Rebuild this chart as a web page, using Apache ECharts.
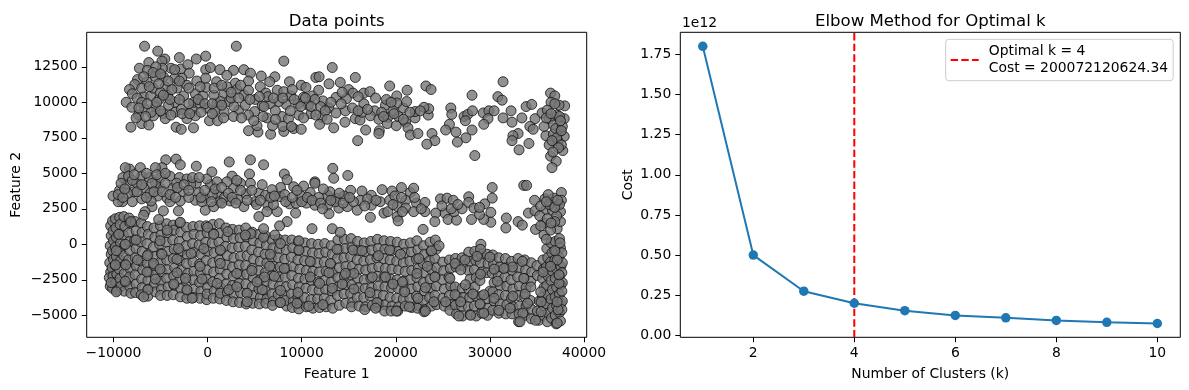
<!DOCTYPE html>
<html>
<head>
<meta charset="utf-8">
<title>Data points and elbow curve</title>
<script src="https://cdn.jsdelivr.net/npm/echarts@6/dist/echarts.min.js"></script>
<style>
  html, body { margin: 0; padding: 0; background: #fff; }
  #chart { width: 1189px; height: 390px; }
</style>
</head>
<body>
<div id="chart"></div>
<script>
// points, band by band
const upperBand = [
[-6700,13950],[-5300,13600],[3050,13950],[8100,12900],[13250,12450],[-3000,13150],[-1200,13050],[-200,13250],[-4550,13050],[-4850,12900],
[-6250,12800],[-7250,12400],[-6400,12250],[-3900,12400],[-2850,12350],[-2100,12650],[-200,12300],[300,12450],[1300,12300],[2750,12250],
[3850,12300],[4550,12050],[2050,11900],[5700,11850],[7150,11800],[4350,11500],[2950,11350],[8700,11450],[11500,11750],[11850,11800],
[12900,11300],[14100,11400],[9950,11200],[10450,11050],[6600,11450],[5600,11100],[950,11450],[-1150,11500],[-1950,12050],[-2750,11700],
[-4700,11800],[-5550,11800],[-6450,11450],[-7450,11600],[-7750,11250],[-8300,10900],[-8000,10600],[-8650,10000],[-8050,9650],[-7350,9100],
[-8150,8250],[-7000,8500],[-6250,8400],[-5750,9050],[-6700,9550],[-6800,10400],[-6050,10450],[-5150,10200],[-4250,10500],[-3250,11000],
[-2200,11200],[-4500,11100],[-2550,10450],[-1300,10600],[-500,10450],[-150,11050],[1750,10650],[3100,10900],[3850,10500],[5050,10200],
[6200,10650],[7400,10850],[8100,10750],[8850,10450],[10200,10350],[11150,10450],[11800,10850],[12250,10100],[13650,10350],[12900,9600],
[13650,9250],[11000,9200],[9700,9100],[9600,9900],[8350,9850],[7550,10050],[6650,9900],[5800,9750],[5000,9350],[3300,9450],
[2250,10050],[1000,9950],[-50,9600],[800,9400],[-1650,9500],[-3450,9300],[-3450,10000],[-4700,9200],[-4500,8850],[-2200,8850],
[-1300,9050],[200,8700],[1050,8700],[1750,9350],[2750,9000],[4350,9100],[6300,8900],[7900,9000],[8600,8850],[4350,8000],
[5350,7900],[5250,8350],[6700,7750],[6900,8350],[8100,7950],[8000,8300],[9150,8150],[9950,8100],[12150,8950],[11900,8450],
[13400,8200],[-3350,8250],[-2800,8100],[-1500,8200],[-4150,9800],[-5550,9700],[1350,10050],[3500,11200],[4350,10850],[2050,11100],
[650,10500],[-7000,11000],[-5800,11000],[-5000,10700],[-4000,10200],[-3500,11700],[-6000,9300],[-7500,10300],[-4800,12400],[-5500,12500],
[-1500,10000],[-800,9900],[-2800,9500],[2800,9700],[4000,9800],[7200,9400],[6400,10400],[8800,9400],[10700,9800],[12000,9700],
[11400,10200],[15700,11750],[15000,10900],[15450,10650],[14750,10250],[14650,9400],[14600,8600],[16600,10650],[17250,10750],[17850,10300],
[16600,9900],[17750,9400],[17300,9050],[15700,8850],[16200,8750],[16800,8050],[15950,7300],[18250,8000],[18200,7800],[18200,8800],
[19150,8950],[19100,8500],[20050,8350],[20300,9000],[21050,8600],[21300,8200],[21550,7700],[22350,7800],[23850,7800],[24150,7300],
[23300,7050],[22050,8900],[22050,9350],[23450,9100],[23500,9550],[23000,9650],[20800,9600],[21150,10050],[20100,10450],[20100,9950],
[18900,9800],[19000,10200],[19350,11150],[21200,10850],[23200,11150],[23750,10900],[25850,9600],[25950,9150],[25700,8450],[25300,8050],
[26400,7900],[27450,7500],[26550,7200],[28100,8050],[28400,6250],[28100,10500],[31400,11450],[30850,10400],[31300,10150],[27250,9000],
[27650,9150],[28150,9400],[27400,8700],[29300,9250],[29900,9400],[30450,9400],[29800,8850],[29350,8450],[31400,8900],[32250,9400],
[32350,8600],[33400,8900],[33850,9700],[34450,9850],[34800,8850],[35550,9250],[34250,8300],[34600,8100],[33000,7800],[32450,7650],
[32350,7300],[34150,7100],[33100,6650],[36450,10650],[36900,10450],[36500,10000],[37950,9750],[37150,9100],[37900,8850],[36300,8850],
[36750,8400],[35950,7650],[36750,7750],[37500,7950],[37900,7600],[36300,7000],[37250,7250],[37750,6600],[36450,6200],[37050,5850],
[36600,5400],[36100,9450],[37350,9800],[35750,8300],[37000,8150],[36900,9900],[37400,9000],[37700,8300],[37100,7500],[37600,7000],
[36600,7300],[36000,8900],[37500,8700],[37300,6800],[36700,6500],[37600,8000],[36500,9200],[15400,9600],[16000,10400],[14200,9900],
[19700,9400],[18500,9300],[16400,9300],[20800,8800],[19500,10000],
[-7000,10000],[-7300,9600],[-6400,9900],[-5400,10000],[-4700,10500],[-3800,10900],[-3000,10200],[-2000,9900],[-1000,10200],[-300,9900],
[500,9900],[1500,9800],[2500,10300],[3300,10300],[4500,10200],[5500,10400],[6000,9700],[7000,10300],[8000,10300],[9200,10200],
[9900,9700],[10400,10300],[11000,9700],[12500,9400],[13100,10000],[-6200,11100],[-5200,11300],[-4200,11500],[-3000,11500],[-2000,11000],
[-800,11100],[-200,11700],[700,11000],[1500,11200],[2500,10700],[-6800,11800],[-5800,12100],[-5000,12000],[-3500,12300],[-6600,9000],
[-7600,8900],[-5000,9400],[-3900,9100],[-2700,9200],[-1900,9200],[-700,9300],[500,9200],[1700,8900],[3600,8900],[4900,8700],
[5900,9000],[7200,8800],[8900,8300],[10200,8900],[11500,9100],[12700,8800],[9000,10900],[14300,10700],[16000,9400],[17000,9500],
[18700,9000],[19800,9200],[21500,9300],[22600,9400]
];
const middleBand = [
[-4450,5950],[-3350,6000],[-2900,5600],[-4850,5400],[-5550,5400],[-8300,5300],[-8750,5400],[-7150,5400],[-1200,5500],[2300,5800],
[4550,5950],[5950,5600],[13300,5350],[450,5100],[2600,4800],[4450,4950],[8150,4950],[13400,4650],[11400,4400],[14900,4850],
[-9350,3800],[-8600,4250],[-7850,3700],[-10050,3400],[-9050,3000],[-6800,4000],[-6100,3600],[-5300,3400],[-4300,3250],[-3700,3950],
[-2550,3700],[-950,3650],[-250,3250],[1050,3550],[2400,3050],[1300,3000],[-250,2400],[2750,3950],[4100,3550],[5450,3600],
[4550,4300],[7750,4000],[6150,3450],[6400,2750],[7750,3350],[8700,2850],[9850,3450],[10900,3650],[12750,3450],[13700,3250],
[12750,2750],[11400,2750],[9350,2200],[5450,1950],[6300,2300],[7400,2300],[3850,2650],[650,2650],[-1300,3100],[-2900,3050],
[-5050,3950],[10200,4100],[11400,4300],[8450,4550],[13950,2550],[12900,2150],[-5550,4300],[-7500,4300],[300,4200],[2050,4400],
[3500,4300],[6850,3850],[9150,4050],[-5900,2650],[-6650,2300],[-4700,2350],[-3100,2350],[-6800,2050],[-5200,1750],[5950,1100],
[8450,1600],[7650,1300],[7150,650],[11100,1100],[13250,1100],[13600,3000],[15200,3800],[16400,3750],[16250,3100],[17400,3450],
[17400,2750],[14850,2650],[15900,2400],[17300,1900],[18550,3850],[19600,3750],[18350,3000],[19350,3100],[20600,4000],[21550,3650],
[21900,3950],[21050,3100],[18750,2200],[19150,2300],[20150,2650],[20150,1950],[20250,1650],[21050,2550],[22200,2900],[23100,2950],
[23100,2300],[21900,2300],[22900,1050],[24750,3200],[25450,3250],[26100,3100],[25200,2200],[24250,2200],[24150,1600],[25550,1750],
[26450,1700],[26200,2300],[27050,2500],[27750,3350],[27750,2950],[28300,2550],[29450,2850],[30250,4000],[30250,3250],[30100,2250],
[30100,1550],[28050,1750],[29350,1750],[33600,4150],[33900,4150],[31750,1850],[31700,1150],[33000,1600],[33450,1350],[34100,2200],
[34750,3100],[34800,2350],[35850,3200],[36800,3250],[37600,3650],[37600,3100],[37500,2300],[35950,2450],[35750,1500],[37150,1100],
[34850,1050],[35750,650],[36000,350],[36450,1000],[14100,850],[36650,2400],[37500,1600],[-9000,4700],[-8400,4800],[-7000,4800],
[-6200,4700],[-5000,4700],[-4000,4800],[-3000,4700],[-2200,4600],[-1200,4300],[-100,4600],[1000,4400],[-8000,3000],[-7000,3200],
[-6000,3050],[-9500,3000],[-4000,3000],[-2000,3300],[-600,3000],[1800,3300],[3200,3150],[5000,3000],[7000,2800],[8200,3500],
[9400,2900],[10500,2900],[11800,3300],[13000,3700],[14500,3400],[15500,3000],[17000,3200],[19900,3400],[20700,2300],[22700,2500],
[25900,2500],[28900,2100],[35300,2000],[36300,2800],[37100,2000],[36900,1600],[36100,1800],[37400,2800],[36200,3500],[-8500,3600],
[-7500,3700],[-5900,4300],[-4500,4300],[-3300,4300],[-1800,4200],[500,3500],[3500,3800],[5800,4200],[-9200,4300],
[-9500,3500],[-9000,3300],[-8800,3900],[-8000,4500],[-7800,4900],[-7000,4200],[-6500,5000],[-6500,3300],[-5700,3700],[-5400,4900],
[-4800,3700],[-4500,5000],[-4000,3500],[-3400,3300],[-3200,4000],[-2500,4200],[-2000,3800],[-1600,4700],[-900,4700],[-700,3300],
[-300,3800],[400,3000],[800,3900],[1500,4000],[1500,2900],[2200,3600],[2600,3300],[3100,4500],[3000,2900],[4200,3100],
[4700,3800],[5200,2800],[5600,3100],[6700,3300],[7100,3400],[8300,3000],[9000,3300],[9500,3800],[10000,3000],[10600,3300],
[11100,3100],[12000,2900],[12300,3900],[12200,2500],[13100,3100],[14000,3600],[14400,2900],[15100,3300],[16700,2700],[17900,3100],
[19700,2800],[20600,3300],[22000,3300],[24900,2700],[26600,2800],[28900,2600],[35400,2700],[36000,3000],[36900,2600],[37200,3100],
[36500,1500],[35400,1300]
];
const lowerBand = [
[-10300,1300],[-10250,600],[-10350,-100],[-10250,-700],[-10400,-1300],[-10300,-1950],[-10450,-2350],[-10350,-2950],
[-10100,1650],[-10050,950],[-10000,250],[-10100,-450],[-10000,-1050],[-10150,-1650],[-10050,-2250],[-10100,-3100],
[-9800,1800],[-9750,1150],[-9700,500],[-9800,-200],[-9700,-850],[-9800,-1500],[-9650,-2100],[-9750,-2700],[-9600,-3250],
[-9350,1900],[-9300,1400],[-9400,700],[-9250,100],[-9350,-500],[-9250,-1150],[-9400,-1750],[-9300,-2400],[-9200,-2950],
[-8900,1950],[-8800,1250],[-8950,650],[-8800,-50],[-8900,-800],[-8750,-1400],[-8850,-2050],[-8700,-2700],[-8850,-3300],
[-8350,1850],[-8250,1500],[-8400,800],[-8300,200],[-8250,-450],[-8400,-1100],[-8200,-1750],[-8300,-2300],[-8250,-3000],[-8150,-3450],
[-7700,1600],[-7600,950],[-7750,300],[-7600,-300],[-7700,-950],[-7550,-1550],[-7700,-2150],[-7600,-2800],[-7650,-3400],
[-7050,1500],[-6950,850],[-7100,150],[-6950,-500],[-7050,-1200],[-6900,-1800],[-7000,-2450],[-6950,-3050],[-7050,-3550],
[-6400,1250],[-6300,700],[-6450,50],[-6300,-700],[-6400,-1350],[-6250,-1950],[-6350,-2550],[-6300,-3150],[-6350,-3650],
[-5700,1150],[-5600,500],[-5750,-200],[-5550,-850],[-5700,-1500],[-5600,-2150],[-5650,-2800],[-5550,-3350],
[-5000,1300],[-4950,650],[-5100,0],[-4900,-650],[-5000,-1250],[-4850,-1950],[-5000,-2600],[-4900,-3150],[-5000,-3600],
[-4350,1450],[-4250,800],[-4400,150],[-4200,-500],[-4350,-1100],[-4250,-1800],[-4350,-2400],[-4200,-3000],[-4300,-3600],
[-3650,1350],[-3550,1000],[-3700,300],[-3550,-350],[-3650,-1000],[-3500,-1650],[-3600,-2250],[-3550,-2900],[-3650,-3550],
[-2950,1500],[-2850,850],[-3000,200],[-2850,-500],[-2950,-1150],[-2800,-1800],[-2950,-2500],[-2850,-3100],[-2900,-3700],
[-2250,1200],[-2150,550],[-2300,-100],[-2150,-750],[-2250,-1350],[-2100,-2050],[-2250,-2650],[-2150,-3250],[-2200,-3800],
[-1550,1250],[-1450,700],[-1600,50],[-1400,-550],[-1550,-1250],[-1450,-1900],[-1500,-2500],[-1400,-3150],[-1500,-3750],
[-850,1300],[-750,600],[-900,-50],[-700,-700],[-850,-1400],[-750,-2000],[-850,-2700],[-700,-3300],[-800,-3800],
[-150,1300],[-50,800],[-200,150],[0,-500],[-150,-1150],[-50,-1800],[-150,-2450],[0,-3050],[-100,-3900],[-50,-3500],
[550,1400],[650,750],[500,100],[700,-600],[550,-1300],[650,-1950],[550,-2650],[700,-3300],[600,-3800],
[1250,1450],[1350,800],[1200,150],[1400,-450],[1250,-1100],[1350,-1800],[1250,-2400],[1400,-3050],[1300,-3850],[1350,-3450],
[1950,1150],[2050,500],[1900,-150],[2100,-800],[1950,-1450],[2050,-2100],[1950,-2800],[2100,-3400],[2000,-3950],
[2650,1050],[2750,400],[2600,-250],[2800,-950],[2650,-1600],[2750,-2250],[2650,-2900],[2800,-3500],[2700,-4050],
[3350,1000],[3450,450],[3300,-200],[3500,-850],[3350,-1450],[3450,-2150],[3350,-2750],[3500,-3400],[3400,-4100],
[4050,1150],[4150,500],[4000,-150],[4200,-800],[4050,-1500],[4150,-2100],[4050,-2800],[4200,-3450],[4100,-4200],
[4750,850],[4850,250],[4700,-400],[4900,-1050],[4750,-1700],[4850,-2350],[4750,-3000],[4900,-3600],[4800,-4150],
[5450,700],[5550,100],[5400,-550],[5600,-1200],[5450,-1850],[5550,-2500],[5450,-3150],[5600,-3750],[5500,-4200],
[6150,600],[6250,-50],[6100,-700],[6300,-1300],[6150,-2000],[6250,-2600],[6150,-3300],[6300,-3850],[6200,-4150],
[6850,300],[6950,-250],[6800,-900],[7000,-1550],[6850,-2200],[6950,-2800],[6850,-3500],[7000,-4000],[6900,-4300],
[7550,350],[7650,-300],[7500,-950],[7700,-1600],[7550,-2300],[7650,-2950],[7500,-3550],[7700,-4100],
[8250,300],[8350,-400],[8200,-1050],[8400,-1700],[8250,-2300],[8350,-3000],[8200,-3600],[8400,-4350],[8300,-3950],
[8950,300],[9050,-250],[8900,-900],[9100,-1600],[8950,-2200],[9050,-2850],[8900,-3500],[9100,-4050],[9000,-4450],
[9650,200],[9750,-450],[9600,-1100],[9800,-1750],[9650,-2400],[9750,-3000],[9600,-3700],[9800,-4200],[9700,-4550],
[10350,100],[10450,-500],[10300,-1150],[10500,-1850],[10350,-2450],[10450,-3100],[10300,-3750],[10500,-4400],
[11050,50],[11150,-600],[11000,-1250],[11200,-1900],[11050,-2550],[11150,-3200],[11000,-3900],[11200,-4500],
[11750,0],[11850,-650],[11700,-1300],[11900,-1950],[11750,-2650],[11850,-3250],[11700,-3850],[11900,-4450],
[12450,50],[12550,-550],[12400,-1250],[12600,-1900],[12450,-2550],[12550,-3200],[12400,-3800],[12600,-4400],
[13150,-100],[13250,-700],[13100,-1400],[13300,-2000],[13150,-2650],[13250,-3300],[13100,-3950],[13300,-4500],
[13850,300],[13950,-350],[13800,-1000],[14000,-1650],[13850,-2350],[13950,-2950],[13800,-3600],[14000,-4300],
[14550,350],[14650,-300],[14500,-950],[14700,-1550],[14550,-2250],[14650,-2850],[14500,-3500],[14700,-4150],
[15250,400],[15350,-200],[15200,-850],[15400,-1550],[15250,-2150],[15350,-2850],[15200,-3450],[15400,-4100],[15300,-4400],
[15950,200],[16050,-450],[15900,-1100],[16100,-1750],[15950,-2400],[16050,-3050],[15900,-3750],[16100,-4350],
[16650,100],[16750,-500],[16600,-1200],[16800,-1800],[16650,-2500],[16750,-3100],[16600,-3750],[16800,-4400],[16700,-4600],
[17350,200],[17450,-400],[17300,-1100],[17500,-1700],[17350,-2400],[17450,-3050],[17300,-3650],[17500,-4300],
[18050,350],[18150,-300],[18000,-950],[18200,-1600],[18050,-2250],[18150,-2950],[18000,-3550],[18200,-4150],[18100,-4400],
[18750,250],[18850,-350],[18700,-1000],[18900,-1700],[18750,-2300],[18850,-3000],[18700,-3600],[18900,-4250],[18800,-4700],
[19450,200],[19550,-450],[19400,-1100],[19600,-1750],[19450,-2450],[19550,-3050],[19400,-3750],[19600,-4350],[19500,-4700],
[20150,150],[20250,-500],[20100,-1200],[20300,-1800],[20150,-2500],[20250,-3100],[20100,-3800],[20300,-4400],[20200,-4700],
[20850,0],[20950,-600],[20800,-1300],[21000,-1900],[20850,-2600],[20950,-3200],[20800,-3850],[21000,-4350],
[21550,100],[21650,-550],[21500,-1200],[21700,-1850],[21550,-2500],[21650,-3150],[21500,-3800],[21700,-4450],
[22250,250],[22350,-400],[22200,-1050],[22400,-1700],[22250,-2350],[22350,-3000],[22200,-3650],[22400,-4300],[22300,-4500],
[22950,-100],[23050,-700],[22900,-1350],[23100,-2000],[22950,-2700],[23050,-3300],[22900,-3950],[23100,-4600],[23000,-4750],
[23650,150],[23750,-500],[23600,-1150],[23800,-1800],[23650,-2450],[23750,-3100],[23600,-3750],[23800,-4350],
[24200,300],[24300,-350],[24150,-1000],[24350,-1650],[24200,-2300],[24300,-2950],[24150,-3600],[24350,-4250],
[25000,-1250],[25100,-1850],[24950,-2500],[25150,-3150],[25000,-3800],[25150,-4350],
[25700,-1100],[25800,-1700],[25650,-2300],[25850,-2950],[25700,-3600],[25850,-4250],[25750,-4650],
[26350,-1000],[26400,-1600],[26300,-3000],[26500,-3650],[26350,-4300],[26450,-4900],
[27050,-950],[27100,-1500],[27050,-3100],[27150,-3750],[27000,-4350],[27100,-5050],
[27750,-550],[27850,-1200],[27700,-1850],[27900,-2450],[27750,-3150],[27850,-3750],[27700,-4400],[27900,-4950],
[28400,-500],[28500,-1150],[28350,-1800],[28550,-2350],[28400,-3000],[28500,-3650],[28350,-4350],[28550,-5050],
[29050,0],[29100,-700],[29000,-1300],[29150,-1950],[28950,-2550],[29100,-3650],[29000,-4250],[29150,-4850],
[29700,-700],[29800,-1350],[29650,-2000],[30000,-3300],[29700,-3850],[29800,-4500],[29750,-5000],
[30300,-750],[30400,-1400],[30250,-2050],[30450,-2700],[30300,-3350],[30450,-4000],[30300,-4650],
[30950,-950],[31050,-1600],[30900,-2250],[31100,-2900],[30950,-3550],[31100,-4200],[30950,-4850],
[31650,-1000],[31750,-1650],[31600,-2300],[31800,-2950],[31650,-3600],[31800,-4250],[31700,-4900],
[32300,-1200],[32400,-1850],[32250,-2500],[32450,-3150],[32300,-3800],[32450,-4400],[32350,-4900],
[33000,-1000],[33100,-1650],[32950,-2300],[33150,-2950],[33000,-3600],[33150,-4350],[33050,-5450],[33100,-4900],
[33700,-1100],[33800,-1800],[33650,-2400],[33850,-3050],[33700,-3700],[33850,-4350],[33750,-5000],
[34400,-1300],[34450,-1950],[34350,-2600],[34300,-3950],[34450,-4600],[34400,-5250],
[35000,-1500],[35050,-2200],[35250,-4000],[35050,-4700],[35200,-5350],
[35650,-1100],[35700,-1750],[35600,-2400],[35750,-3050],[35600,-3700],[35750,-4350],[35650,-5000],
[36050,-300],[36150,-950],[36000,-1600],[36200,-2250],[36050,-2900],[36200,-3550],[36050,-4200],[36200,-4850],[36100,-5450],
[36500,100],[36600,-600],[36450,-1250],[36650,-1900],[36500,-2550],[36650,-3200],[36500,-3850],[36650,-4500],[36550,-5200],
[36950,200],[37050,-500],[36900,-1100],[37100,-1750],[36950,-2400],[37100,-3050],[36950,-3700],[37100,-4350],[36950,-5000],[37050,-5600],
[37400,400],[37500,-250],[37350,-900],[37550,-1550],[37400,-2200],[37550,-2850],[37400,-3500],[37550,-4150],[37400,-4800],[37500,-5400],
[37650,-600],[37700,-1300],[37650,-2000],[37700,-2700],[37650,-3300],[37700,-4000],[37650,-4600]
];
// circles that sit on top of the lower band
const lowerBandTop = [
[-8150,1600],[-9450,700],[-8750,0],[-7600,300],[-9700,-450],[-5050,250],[-3100,-300],[-4300,1000],[-2900,1550],[0,1200],
[650,700],[2150,900],[4600,750],[4000,650],[5950,500],[7750,50],[9700,250],[6650,-700],[9700,-400],[10900,-1200],
[13050,-1350],[1350,-400],[-400,-300],[-1750,-650],[-3250,-1050],[-4850,-700],[-6400,-800],[-7450,-1100],[-9800,-1450],[-8700,-1450],
[-5750,-1350],[-5050,-1750],[-6450,-1950],[-3250,-2000],[-800,-1550],[1350,-1350],[3100,-2050],[4700,-1850],[6600,-1550],[8150,-1700],
[10900,-2300],[12900,-2000],[11900,-2750],[13250,-3100],[9600,-3400],[7750,-3250],[5800,-3200],[4200,-3450],[2250,-3200],[1000,-2750],
[-600,-2450],[-2350,-2400],[-3600,-2800],[-5550,-2450],[-8750,-2600],[-10250,-2700],[-9700,-3350],[-6350,-3200],[-2200,-3200],[4200,-4050],
[6050,-2300],[7100,-2250],[5250,-2650],[3100,-3000],[9500,-4150],[12250,-4250],[10750,-4350],[7750,-4100],[-1650,-3800],[-6800,-3700],
[14300,-2800],[15550,-3150],[13750,-350],[15450,-400],[16400,-450],[18150,-800],[19350,-400],[20500,-700],[22450,-1000],[23800,-450],
[24600,-100],[23350,-1550],[24150,-2300],[22250,-2050],[20700,-2650],[23150,-3050],[19700,-2800],[18900,-2300],[17500,-2300],[17250,-3400],
[15550,-2050],[14650,-2050],[18000,-4100],[17850,-4500],[20050,-4700],[23150,-4700],[21450,-4400],[22350,-3800],[20950,-3350],[24050,-4050],
[25300,-4050],[26300,-3550],[27400,-2850],[28200,-3500],[29350,-3550],[30450,-3800],[32450,-3650],[33750,-3500],[34000,-4150],[33500,-4850],
[32150,-4500],[29350,-4850],[27950,-5000],[26700,-5050],[26900,-4050],[28950,-4200],[30950,-4650],[33200,-5450],[34850,-5350],[37150,-5550],
[37250,-4600],[37150,-4050],[35450,-4050],[35450,-4750],[35400,-3350],[37350,-2750],[37350,-2150],[35650,-1950],[37150,-1100],[36450,-1550],
[36900,-450],[37450,100],[32400,-1600],[33450,-1200],[34350,-3000],[33600,-2400],[31500,-1700],[30450,-1750],[29000,-350],[30000,-900],
[28650,-850],[27350,-1100],[26300,-1350],[26900,-1800],[25750,-2400],[29000,-2100],[30800,-2600]
];
const scatterXTicks = [-10000, 0, 10000, 20000, 30000, 40000];
const scatterYTicks = [-5000, -2500, 0, 2500, 5000, 7500, 10000, 12500];

// elbow curve
const kValues = [1, 2, 3, 4, 5, 6, 7, 8, 9, 10];
const costValues = [1.8e12, 5e11, 2.75e11, 200072120624.34, 1.54e11, 1.24e11, 1.09e11, 9.3e10, 8.1e10, 7.4e10];
const kTicks = [2, 4, 6, 8, 10];
const costTicks = [0, 2.5e11, 5e11, 7.5e11, 1e12, 1.25e12, 1.5e12, 1.75e12];
const optimalK = 4;
const optimalName = "Optimal k = 4\nCost = 200072120624.34";

const FONT = "DejaVu Sans";
const costMin = -1.2e10;
const costMax = 1.887e12;

const chart = echarts.init(document.getElementById("chart"), null, { renderer: "canvas" });

function plainNumber(v) {
	return String(v).replace("-", "\u2212");
}

function axisBase(name, ticks, min, max, gridIndex) {
	return {
		type: "value",
		gridIndex: gridIndex,
		min: min,
		max: max,
		name: name,
		nameLocation: "middle",
		nameGap: 30,
		nameTextStyle: { fontFamily: FONT, fontSize: 13.9, color: "#000" },
		splitLine: { show: false },
		axisLine: { show: false, onZero: false },
		axisTick: { show: true, length: 5, customValues: ticks, lineStyle: { color: "#000", width: 1 } },
		axisLabel: { fontFamily: FONT, fontSize: 13.9, color: "#000", margin: 9, customValues: ticks, formatter: plainNumber },
	};
}

const scatterStyle = { color: "#757575", borderColor: "#111", borderWidth: 1 };

const option = {
	animation: false,
	backgroundColor: "#fff",
	title: [
		{ text: "Data points", left: 331.7, top: 8, textAlign: "center", textStyle: { fontFamily: FONT, fontSize: 16.6, fontWeight: "normal", color: "#000" } },
		{ text: "Elbow Method for Optimal k", left: 925.3, top: 8, textAlign: "center", textStyle: { fontFamily: FONT, fontSize: 16.6, fontWeight: "normal", color: "#000" } },
	],
	grid: [
		{ left: 86.7, right: 602.3, top: 32.3, bottom: 52.7, show: true, borderColor: "#000", borderWidth: 1, backgroundColor: "transparent" },
		{ left: 680.3, right: 8.7, top: 32.3, bottom: 52.7, show: true, borderColor: "#000", borderWidth: 1, backgroundColor: "transparent" },
	],
	xAxis: [
		axisBase("Feature 1", scatterXTicks, -12850, 40290, 0),
		axisBase("Number of Clusters (k)", kTicks, 0.555, 10.455, 1),
	],
	yAxis: [
		{
			...axisBase("Feature 2", scatterYTicks, -6549, 14930, 0),
			nameGap: 63,
		},
		{
			...axisBase("Cost", costTicks, costMin, costMax, 1),
			nameGap: 45,
			axisLabel: {
				fontFamily: FONT,
				fontSize: 13.9,
				color: "#000",
				margin: 9,
				customValues: costTicks,
				formatter: (v) => (v / 1e12).toFixed(2),
			},
		},
	],
	legend: {
		data: [{ name: optimalName }],
		selectedMode: false,
		left: 945.7,
		top: 39.3,
		padding: [4, 5, 4, 4],
		itemWidth: 28,
		itemHeight: 14,
		itemGap: 0,
		itemStyle: { opacity: 0 },
		backgroundColor: "#fff",
		borderColor: "#ccc",
		borderWidth: 1,
		borderRadius: 3,
		textStyle: { fontFamily: FONT, fontSize: 13.9, color: "#000", lineHeight: 16.7, padding: [0, 0, 0, 5] },
	},
	graphic: [
		{ type: "text", left: 682, top: 16, style: { text: "1e12", fontFamily: FONT, fontSize: 13.9, fill: "#000" } },
	],
	series: [
		{ type: "scatter", xAxisIndex: 0, yAxisIndex: 0, symbolSize: 10, itemStyle: scatterStyle, data: lowerBand },
		{ type: "scatter", xAxisIndex: 0, yAxisIndex: 0, symbolSize: 10, itemStyle: scatterStyle, data: lowerBandTop },
		{ type: "scatter", xAxisIndex: 0, yAxisIndex: 0, symbolSize: 10, itemStyle: scatterStyle, data: middleBand },
		{ type: "scatter", xAxisIndex: 0, yAxisIndex: 0, symbolSize: 10, itemStyle: scatterStyle, data: upperBand },
		{
			type: "line",
			xAxisIndex: 1,
			yAxisIndex: 1,
			symbol: "none",
			name: optimalName,
			lineStyle: { color: "#ff0000", width: 2, type: [7.4, 3.2] },
			itemStyle: { color: "#ff0000" },
			data: [[optimalK, costMin], [optimalK, costMax]],
			z: 2,
		},
		{
			type: "line",
			xAxisIndex: 1,
			yAxisIndex: 1,
			symbol: "circle",
			symbolSize: 9.5,
			lineStyle: { color: "#1f77b4", width: 2 },
			itemStyle: { color: "#1f77b4" },
			data: kValues.map((k, i) => [k, costValues[i]]),
			z: 3,
		},
	],
};

chart.setOption(option);
</script>
</body>
</html>
